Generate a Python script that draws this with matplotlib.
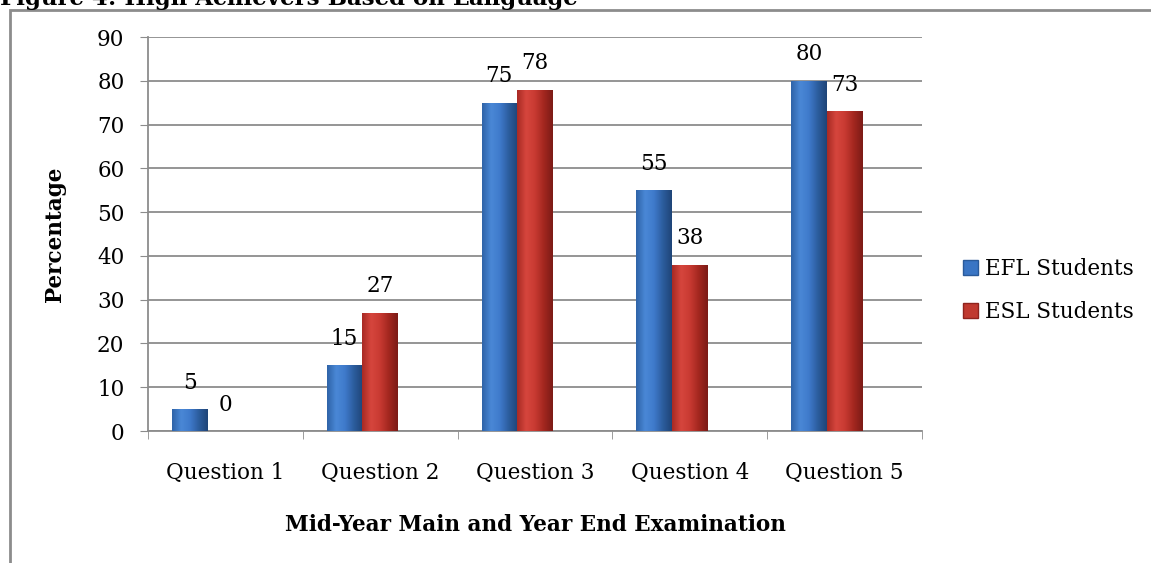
import matplotlib
matplotlib.use('Agg')
import matplotlib.pyplot as plt
import numpy as np
from matplotlib.patches import Rectangle
from matplotlib.colors import LinearSegmentedColormap

plt.rcParams['font.family'] = 'DejaVu Serif'

categories = ['Question 1', 'Question 2', 'Question 3', 'Question 4', 'Question 5']
efl = [5, 15, 75, 55, 80]
esl = [0, 27, 78, 38, 73]
series_names = ['EFL Students', 'ESL Students']

W, H = 1151, 563
fs = 15.5
fig = plt.figure(figsize=(W / 100, H / 100), dpi=100)

# plot area in pixels: left 148, right 922, top 37, bottom 431
ax = fig.add_axes([148 / W, 1 - 431 / H, (922 - 148) / W, (431 - 37) / H])

x = np.arange(len(categories))
w = 0.23
blue_cm = LinearSegmentedColormap.from_list('b', ['#2f64a8', '#4a88d6', '#3f7acb', '#2c5d9e', '#1f4578'])
red_cm = LinearSegmentedColormap.from_list('r', ['#a82a24', '#d6463d', '#c83a32', '#a3271f', '#7c1b16'])

grad = np.linspace(0, 1, 64).reshape(1, -1)
for vals, off, cm, base in [(efl, -w, blue_cm, '#3a75c4'), (esl, 0, red_cm, '#c0392f')]:
    bars = ax.bar(x + off, vals, width=w, color=base, edgecolor='none', zorder=3)
    for b, v in zip(bars, vals):
        bx, by = b.get_x(), b.get_y()
        bw, bh = b.get_width(), b.get_height()
        if v > 0:
            im = ax.imshow(grad, cmap=cm, aspect='auto', extent=[bx, bx + bw, by, by + bh],
                           zorder=3.5, interpolation='bicubic')
            im.set_clip_path(b)
        ax.text(bx + bw / 2, v + 3.5, str(v), ha='center', va='bottom', fontsize=fs, zorder=5)

ax.set_xlim(-0.5, len(categories) - 0.5)
ax.set_ylim(0, 90)
ax.set_yticks(np.arange(0, 91, 10))
ax.set_xticks(x)
ax.set_xticklabels(categories, fontsize=fs)
ax.set_xticks(np.arange(-0.5, len(categories), 1), minor=True)
ax.tick_params(axis='x', which='major', length=0, pad=22)
ax.tick_params(axis='x', which='minor', length=6, color='#8c8c8c', direction='out')
ax.tick_params(axis='y', length=6, color='#8c8c8c', direction='out', labelsize=fs, pad=11)
ax.grid(axis='y', color='#8c8c8c', linewidth=1.3, zorder=0)
for s in ['top', 'right']:
    ax.spines[s].set_visible(False)
for s in ['left', 'bottom']:
    ax.spines[s].set_color('#8c8c8c')
    ax.spines[s].set_linewidth(1.3)

ax.set_ylabel('Percentage', fontsize=fs, fontweight='bold', labelpad=22)
ax.set_xlabel('Mid-Year Main and Year End Examination', fontsize=fs, fontweight='bold', labelpad=22)

handles = [Rectangle((0, 0), 1, 1, facecolor='#3a75c4', edgecolor='#2a5a9a'),
           Rectangle((0, 0), 1, 1, facecolor='#c0392f', edgecolor='#8f231d')]
fig.legend(handles, series_names, loc='center left', bbox_to_anchor=(944 / W, 1 - 290.5 / H),
           frameon=False, fontsize=fs, handlelength=0.7, handleheight=0.7,
           handletextpad=0.3, labelspacing=1.0)

# outer chart border, running off the right and bottom of the image
fig.patches.append(Rectangle((10 / W, -0.1), 1.2, 1 - 10 / H + 0.1, transform=fig.transFigure,
                             fill=False, edgecolor='#8c8c8c', linewidth=2))

fig.text(0.0, 1 - 5 / H, 'Figure 4: High Achievers Based on Language', fontsize=16.5,
         fontweight='bold', va='baseline', ha='left')

fig.savefig('out.png', dpi=100)
